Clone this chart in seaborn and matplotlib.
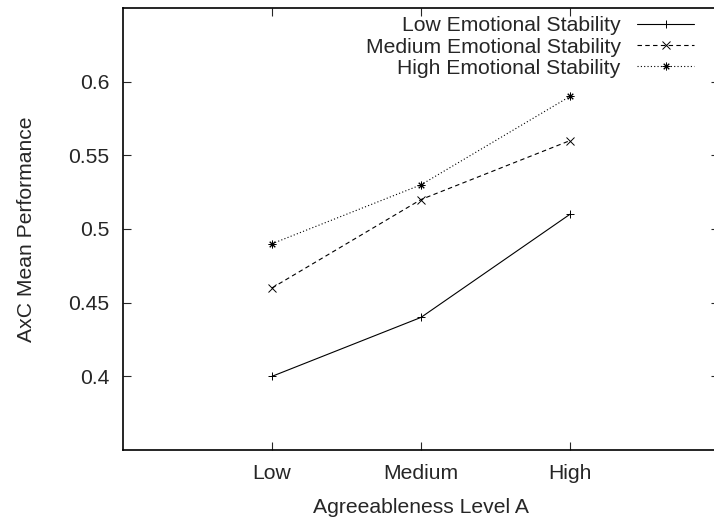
import matplotlib
matplotlib.use("Agg")
import matplotlib.pyplot as plt
import seaborn as sns
import pandas as pd

levels = ["Low", "Medium", "High"]
series_names = ["Low Emotional Stability", "Medium Emotional Stability", "High Emotional Stability"]
low_es = [0.40, 0.44, 0.51]
med_es = [0.46, 0.52, 0.56]
high_es = [0.49, 0.53, 0.59]
y_ticks = [0.4, 0.45, 0.5, 0.55, 0.6]
y_tick_labels = ["0.4", "0.45", "0.5", "0.55", "0.6"]

sns.set_style("ticks")
plt.rcParams['font.family'] = ['Liberation Sans', 'DejaVu Sans']
FS = 15.2

rows = []
for name, vals in zip(series_names, [low_es, med_es, high_es]):
    for lv, v in zip(levels, vals):
        rows.append({"Agreeableness": lv, "Performance": v, "Series": name})
df = pd.DataFrame(rows)

fig = plt.figure(figsize=(7.14, 5.22), dpi=100)
ax = fig.add_axes([123/714, 1-450/522, 596/714, 442/522])

sns.lineplot(data=df, x="Agreeableness", y="Performance", hue="Series", style="Series",
             palette=["black"]*3,
             markers={series_names[0]: "+", series_names[1]: "x", series_names[2]: (8, 2, 0)},
             dashes={series_names[0]: "", series_names[1]: (4, 3), series_names[2]: (1, 2)},
             linewidth=0.8, markersize=5.5, markeredgewidth=0.7, markeredgecolor="black",
             ax=ax, sort=False)

ax.set_xlim(-1, 3)
ax.set_ylim(0.35, 0.65)
ax.set_yticks(y_ticks)
ax.set_yticklabels(y_tick_labels)
ax.set_xticks([0, 1, 2])
ax.set_xticklabels(levels)
ax.tick_params(direction="in", length=6, width=0.8, labelsize=FS, top=True, right=True, pad=10)
for s in ax.spines.values():
    s.set_linewidth(1.2)
    s.set_color("black")
ax.set_xlabel("Agreeableness Level A", fontsize=FS, labelpad=11)
ax.set_ylabel("AxC Mean Performance", fontsize=FS, labelpad=23)

handles, labels = ax.get_legend_handles_labels()
for h in handles:
    h.set_markeredgecolor("black")
    h.set_color("black")
ax.legend(handles, labels, loc="upper right", frameon=False, fontsize=FS, markerfirst=False,
          handlelength=2.7, labelspacing=0.1, borderaxespad=0.0, handletextpad=0.8,
          bbox_to_anchor=(0.973, 1.0))

fig.savefig("out.png", dpi=100)
